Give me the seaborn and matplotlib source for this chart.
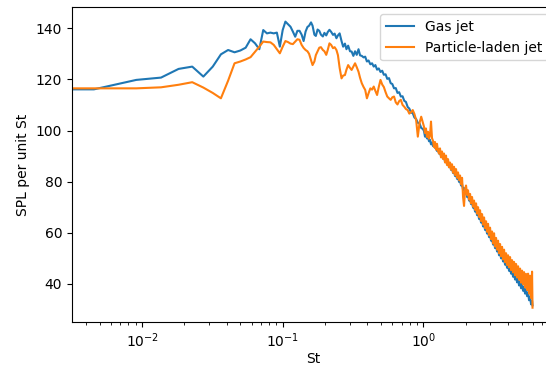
import matplotlib
matplotlib.use("Agg")
import matplotlib.pyplot as plt
import seaborn as sns
import numpy as np
import pandas as pd

# ---- data ----
st_low = [0.0, 0.00454, 0.00909, 0.01363, 0.01817, 0.02272, 0.02726, 0.0318, 0.03634, 0.04089,
          0.04543, 0.04997, 0.05452, 0.05906, 0.0636, 0.06815, 0.07269, 0.07723, 0.08178, 0.08632,
          0.09086, 0.0954, 0.09995, 0.1045, 0.109, 0.1136, 0.1181, 0.1227, 0.1272, 0.1317,
          0.1363, 0.1408, 0.1454, 0.1499]
gas_low = [116.1, 116.1, 119.8, 120.7, 124.1, 125.0, 121.1, 125.0, 129.8, 131.5,
           130.6, 131.3, 132.4, 135.7, 134.1, 131.8, 139.3, 138.0, 138.3, 138.0,
           138.3, 132.8, 139.3, 142.6, 141.6, 140.6, 138.7, 136.7, 139.0, 139.0,
           137.5, 135.0, 138.7, 140.5]
pl_low = [116.5, 116.5, 116.5, 116.9, 117.9, 118.9, 116.8, 114.7, 112.6, 119.5,
          126.3, 127.0, 127.8, 128.7, 130.8, 132.8, 134.8, 134.6, 134.5, 133.5,
          131.8, 130.2, 132.8, 135.0, 134.6, 134.0, 133.8, 134.8, 135.7, 135.5,
          133.5, 132.3, 131.5, 131.0]

st_mid = [0.154, 0.159, 0.163, 0.168, 0.172, 0.177, 0.182, 0.187, 0.193, 0.198,
          0.204, 0.209, 0.215, 0.221, 0.228, 0.234, 0.241, 0.247, 0.254, 0.262,
          0.269, 0.277, 0.284, 0.292, 0.301, 0.309, 0.318, 0.327, 0.336, 0.346,
          0.355, 0.365, 0.376, 0.386, 0.397, 0.408, 0.420, 0.432, 0.444, 0.456,
          0.469, 0.482, 0.496, 0.510, 0.524, 0.539, 0.554, 0.570, 0.586, 0.602,
          0.619, 0.637, 0.655, 0.673, 0.692, 0.712, 0.732, 0.752, 0.774, 0.795,
          0.818, 0.841, 0.864, 0.889, 0.914, 0.940, 0.966, 0.993]
gas_mid = [141.0, 142.3, 141.0, 137.5, 137.0, 139.5, 139.0, 137.5, 136.8, 138.2,
           137.2, 138.5, 139.4, 138.6, 137.4, 137.9, 136.1, 137.2, 138.0, 135.0,
           132.8, 134.0, 131.8, 133.2, 131.0, 130.9, 129.2, 131.0, 129.6, 131.8,
           129.4, 129.2, 128.6, 128.9, 127.0, 127.4, 125.9, 126.3, 125.0, 125.6,
           123.8, 124.3, 122.9, 123.4, 121.8, 122.0, 120.2, 120.5, 118.5, 118.2,
           116.5, 116.6, 114.7, 115.0, 113.3, 113.4, 111.6, 111.2, 109.2, 108.6,
           107.0, 106.8, 105.1, 104.5, 103.0, 102.8, 101.0, 100.6]
pl_mid = [130.0, 127.5, 125.6, 127.0, 129.5, 131.0, 132.4, 132.6, 131.5, 131.0,
          129.6, 131.5, 134.1, 133.5, 132.2, 132.6, 131.5, 129.5, 124.5, 120.4,
          121.5, 121.7, 123.8, 125.6, 124.5, 123.7, 125.0, 126.3, 124.8, 123.0,
          120.6, 118.5, 117.0, 115.9, 112.6, 114.6, 116.5, 116.0, 117.2, 115.5,
          113.9, 117.0, 119.8, 118.0, 117.0, 115.0, 113.3, 112.6, 112.0, 113.0,
          113.3, 111.0, 110.2, 111.5, 112.0, 110.0, 109.3, 108.4, 108.0, 106.6,
          107.2, 108.0, 106.5, 104.1, 97.6, 103.0, 105.4, 103.0]

st_high = [1.011, 1.028, 1.044, 1.062, 1.080, 1.097, 1.115, 1.134, 1.153, 1.172,
           1.191, 1.211, 1.231, 1.251, 1.272, 1.293, 1.314, 1.336, 1.358, 1.381,
           1.403, 1.427, 1.450, 1.474, 1.499, 1.523, 1.549, 1.574, 1.600, 1.627,
           1.654, 1.681, 1.709, 1.737, 1.766, 1.795, 1.825, 1.855, 1.886, 1.917,
           1.948, 1.981, 2.013, 2.047, 2.080, 2.115, 2.150, 2.185, 2.221, 2.258,
           2.295, 2.333, 2.372, 2.411, 2.451, 2.491, 2.532, 2.574, 2.617, 2.660,
           2.704, 2.748, 2.794, 2.840, 2.887, 2.934, 2.983, 3.032, 3.082, 3.133,
           3.185, 3.237, 3.291, 3.345, 3.400, 3.457, 3.514, 3.572, 3.631, 3.691,
           3.752, 3.814, 3.877, 3.941, 4.006, 4.072, 4.139, 4.208, 4.277, 4.348,
           4.420, 4.493, 4.567, 4.642, 4.719, 4.797, 4.876, 4.957, 5.038, 5.122,
           5.206, 5.292, 5.380, 5.469, 5.559, 5.651, 5.744, 5.839, 5.935, 5.980]
gas_high = [99.8, 97.6, 98.5, 96.9, 97.6, 95.8, 96.4, 94.6, 95.3, 93.9,
            95.0, 93.2, 93.8, 92.0, 92.8, 91.0, 91.7, 89.9, 90.6, 89.0,
            89.7, 87.8, 88.5, 86.8, 87.5, 85.7, 86.5, 84.6, 85.3, 83.4,
            84.0, 82.2, 82.9, 81.1, 81.8, 79.9, 80.4, 78.5, 79.0, 76.9,
            77.5, 75.4, 76.0, 74.0, 74.7, 72.6, 73.3, 71.2, 71.9, 69.8,
            70.5, 68.3, 69.1, 66.9, 67.8, 65.4, 66.3, 64.0, 65.0, 62.5,
            63.6, 61.1, 62.0, 59.7, 60.8, 58.3, 59.3, 56.9, 57.9, 55.4,
            56.6, 54.0, 55.1, 52.7, 53.8, 51.2, 52.3, 50.0, 51.2, 48.8,
            49.9, 47.5, 48.8, 46.3, 47.6, 45.1, 46.4, 44.0, 45.3, 42.8,
            44.2, 41.7, 43.1, 40.6, 42.0, 39.4, 40.9, 38.3, 39.9, 37.3,
            38.9, 36.2, 37.9, 35.2, 36.6, 33.6, 35.0, 32.0, 33.4, 31.6]
pl_high = [101.5, 99.0, 100.8, 97.5, 99.5, 96.8, 98.0, 103.5, 97.0, 96.0,
           93.5, 95.5, 92.5, 94.8, 92.0, 91.0, 93.0, 89.5, 91.8, 88.9,
           91.0, 87.5, 90.2, 86.5, 88.8, 85.6, 87.5, 84.7, 86.8, 83.5,
           85.8, 82.6, 84.9, 81.5, 83.6, 80.6, 82.4, 79.0, 81.5, 74.0,
           70.5, 77.0, 78.5, 74.8, 76.6, 73.0, 75.2, 71.5, 74.0, 70.2,
           72.6, 69.0, 71.5, 67.5, 70.0, 66.2, 68.8, 64.6, 67.3, 63.2,
           66.0, 61.8, 64.5, 60.4, 63.5, 59.0, 62.0, 57.5, 60.5, 55.8,
           59.8, 54.6, 58.0, 53.4, 56.9, 52.0, 55.6, 50.8, 54.5, 49.6,
           53.4, 48.5, 52.0, 47.4, 51.2, 46.5, 50.5, 45.4, 49.3, 44.5,
           48.6, 43.4, 47.8, 42.5, 46.9, 41.6, 46.0, 40.5, 45.2, 39.8,
           44.6, 38.6, 43.9, 37.6, 44.0, 36.2, 43.2, 34.5, 44.8, 30.7]

labels = ["Gas jet", "Particle-laden jet"]
colors = ["#1f77b4", "#ff7f0e"]

st = st_low + st_mid + st_high
gas = gas_low + gas_mid + gas_high
pl = pl_low + pl_mid + pl_high

df = pd.DataFrame({
    "St": st + st,
    "SPL": gas + pl,
    "series": [labels[0]] * len(st) + [labels[1]] * len(st),
})

fig = plt.figure(figsize=(5.46, 3.68), dpi=100)
ax = fig.add_axes([72 / 546, 46 / 368, (554.5 - 72) / 546, (322 - 7.3) / 368])

for lab, col in zip(labels, colors):
    sub = df[df["series"] == lab]
    sns.lineplot(data=sub, x="St", y="SPL", ax=ax, color=col, label=lab,
                 estimator=None, sort=False, linewidth=1.5)

ax.set_xscale("log")
ax.set_xlim(0.003172, 8.57)
ax.set_ylim(25.1, 148.2)
ax.set_xlabel("St", labelpad=1.5)
ax.set_ylabel("SPL per unit St")
ax.legend(loc="upper right")

fig.savefig("out.png", dpi=100)
